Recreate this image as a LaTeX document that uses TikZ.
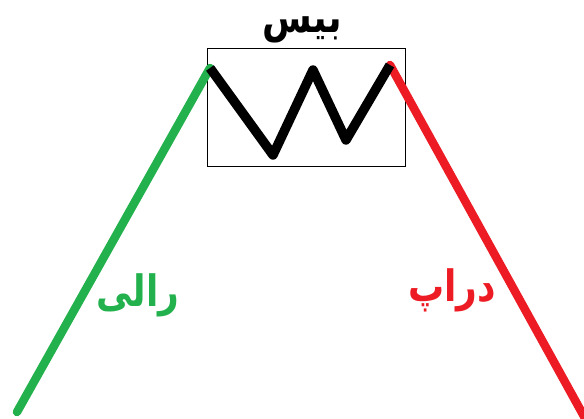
\documentclass[tikz,border=0pt]{standalone}
\usepackage{fontspec}
\newfontfamily\arabicfont[Script=Arabic]{DejaVu Sans}
\TeXXeTstate=1
\definecolor{paintgreen}{RGB}{34,177,76}
\definecolor{paintred}{RGB}{237,28,36}
\begin{document}
\begin{tikzpicture}[x=1pt,y=-1pt,
  trend/.style={line width=8.5pt,line cap=round,line join=round},
  lbl/.style={font=\arabicfont\bfseries\fontsize{36}{40}\selectfont,inner sep=0pt,yscale=1.2}]
\useasboundingbox (0,0) rectangle (584,418);
\coordinate (g0) at (17,412);
\coordinate (z0) at (210,68);
\coordinate (z1) at (273,155);
\coordinate (z2) at (313,70);
\coordinate (z3) at (346,140);
\coordinate (z4) at (390,65);
\coordinate (r1) at (586,420);
\node (box) [draw,line width=1.2pt,minimum width=198pt,minimum height=118pt,inner sep=0pt,anchor=north west] at (207,48) {};
\draw[trend,paintgreen] (g0) -- (z0);
\draw[trend,paintred] (z4) -- (r1);
\draw[trend,black,line width=9.5pt,line cap=butt,miter limit=10] (z0) -- (z1) -- (z2) -- (z3) -- (z4);
\node (base) [lbl,black,transform shape,text height=0.6em,text depth=0.25em] at (302,30) {\beginR بیس\endR};
\node (rally) [lbl,paintgreen,transform shape] at (138,295) {\beginR رالی\endR};
\node (drop) [lbl,paintred,transform shape] at (452,290) {\beginR دراپ\endR};
\end{tikzpicture}
\end{document}
